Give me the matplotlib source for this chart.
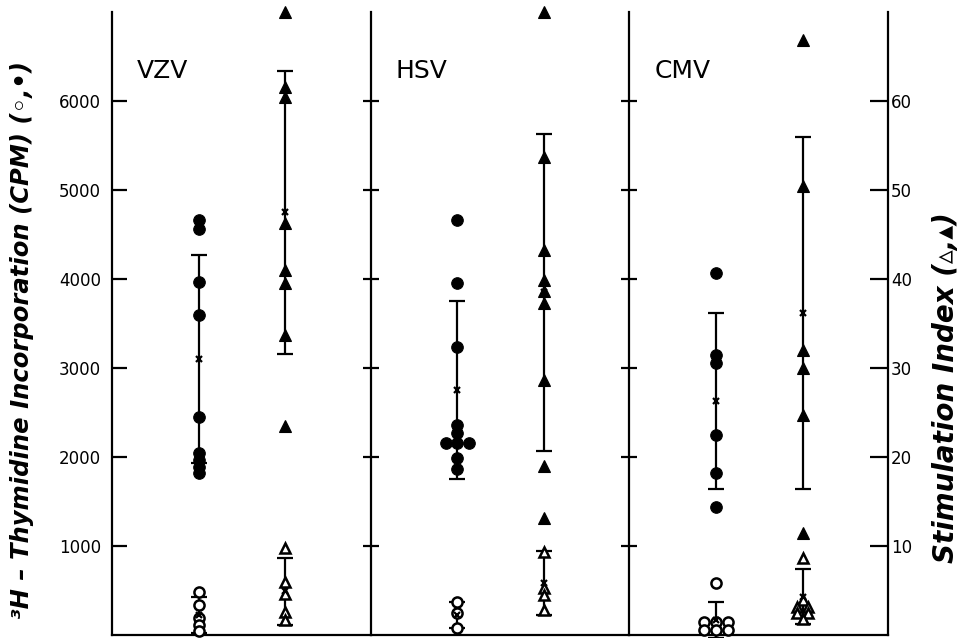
import numpy as np
import matplotlib
matplotlib.use("Agg")
import matplotlib.pyplot as plt
from collections import Counter

plt.rcParams['font.family'] = ['DejaVu Sans']

# ---------------- data ----------------
viruses = ["VZV", "HSV", "CMV"]

# 3H-thymidine incorporation (CPM), immune donors (filled circles)
vzv_cpm_immune = [4660, 4560, 3970, 3590, 2450, 2050, 1970, 1890, 1820]
hsv_cpm_immune = [4660, 3950, 3240, 2360, 2270, 2160, 2160, 2160, 1990, 1860]
cmv_cpm_immune = [4070, 3150, 3060, 2250, 1820, 1440]
# CPM, non-immune donors (open circles)
vzv_cpm_nonimmune = [480, 340, 190, 110, 50]
hsv_cpm_nonimmune = [370, 250, 80]
cmv_cpm_nonimmune = [580, 150, 150, 150, 55, 55, 55]
# Stimulation index, immune (filled triangles)
vzv_si_immune = [70, 61.6, 60.4, 46.3, 41.0, 39.5, 33.7, 23.5]
hsv_si_immune = [70, 53.7, 43.3, 39.9, 38.6, 37.3, 28.7, 19.0, 13.1]
cmv_si_immune = [66.9, 50.4, 32.0, 30.0, 24.7, 11.5]
# Stimulation index, non-immune (open triangles)
vzv_si_nonimmune = [9.8, 5.9, 4.6, 2.6, 1.7]
hsv_si_nonimmune = [9.3, 5.3, 4.5, 2.8]
cmv_si_nonimmune = [8.7, 3.9, 3.2, 3.2, 2.5, 2.5, 1.8]

# means and standard deviations (x marks and bars)
cpm_immune_mean = [3100, 2750, 2630]
cpm_immune_sd = [1170, 1000, 990]
cpm_nonimmune_mean = [225, 225, 170]
cpm_nonimmune_sd = [205, 145, 200]
si_immune_mean = [47.5, 38.5, 36.2]
si_immune_sd = [15.9, 17.8, 19.8]
si_nonimmune_mean = [4.9, 5.8, 4.3]
si_nonimmune_sd = [3.8, 3.6, 3.1]

cpm_ticks = [1000, 2000, 3000, 4000, 5000, 6000]
si_ticks = [10, 20, 30, 40, 50, 60]

cpm_immune = [vzv_cpm_immune, hsv_cpm_immune, cmv_cpm_immune]
cpm_nonimmune = [vzv_cpm_nonimmune, hsv_cpm_nonimmune, cmv_cpm_nonimmune]
si_immune = [vzv_si_immune, hsv_si_immune, cmv_si_immune]
si_nonimmune = [vzv_si_nonimmune, hsv_si_nonimmune, cmv_si_nonimmune]

# ---------------- layout ----------------
W, H = 962, 638
fig = plt.figure(figsize=(W / 100, H / 100), dpi=100)
axes = fig.subplots(1, 3, sharey=True,
                    gridspec_kw=dict(wspace=0, left=112 / W, right=888 / W,
                                     bottom=3 / H, top=1 - 12 / H))

LW = 1.6
X_CIRC, X_TRI = 0.335, 0.67
STEP = 0.045


def spread(values, step):
    counts = Counter(values)
    seen = {}
    out = []
    for v in values:
        n = counts[v]
        k = seen.get(v, 0)
        seen[v] = k + 1
        out.append((k - (n - 1) / 2) * step)
    return np.array(out)


def draw_group(ax, xc, vals, mean, sd, filled, marker, ms):
    vals = np.asarray(vals, dtype=float)
    ax.errorbar([xc], [mean], yerr=[sd], fmt='none', ecolor='black',
                elinewidth=LW, capsize=5.5, capthick=LW, zorder=2, clip_on=False)
    xs = xc + spread(list(vals), STEP)
    if filled:
        ax.plot(xs, vals, linestyle='none', marker=marker, ms=ms, mfc='black',
                mec='black', mew=0.8, zorder=3, clip_on=False)
    else:
        ax.plot(xs, vals, linestyle='none', marker=marker, ms=ms - 1.0, mfc='white',
                mec='black', mew=1.8, zorder=3, clip_on=False)
    ax.plot([xc], [mean], linestyle='none', marker='x', ms=5, mew=1.6,
            color='black', zorder=4, clip_on=False)


for i, ax in enumerate(axes):
    ax.set_xlim(0, 1)
    ax.set_ylim(0, 7000)
    ax.set_xticks([])
    for s in ['top', 'right']:
        ax.spines[s].set_visible(False)
    for s in ['left', 'bottom']:
        ax.spines[s].set_linewidth(LW)
    ax.set_yticks(cpm_ticks)
    if i == 0:
        ax.tick_params(axis='y', direction='in', length=11, width=LW,
                       labelsize=12, pad=8)
    else:
        ax.tick_params(axis='y', direction='inout', length=12, width=LW,
                       labelleft=False)

    ax.text(0.097, 0.894, viruses[i], transform=ax.transAxes, fontsize=18,
            ha='left', va='baseline')

    # CPM columns
    draw_group(ax, X_CIRC, cpm_immune[i], cpm_immune_mean[i], cpm_immune_sd[i],
               True, 'o', 8.3)
    draw_group(ax, X_CIRC, cpm_nonimmune[i], cpm_nonimmune_mean[i],
               cpm_nonimmune_sd[i], False, 'o', 8.3)

    # Stimulation index columns on a twin axis
    axr = ax.twinx()
    axr.set_ylim(0, 70)
    for s in ['top', 'left', 'bottom', 'right']:
        axr.spines[s].set_visible(False)
    if i == 2:
        axr.spines['right'].set_visible(True)
        axr.spines['right'].set_linewidth(LW)
        axr.set_yticks(si_ticks)
        axr.tick_params(axis='y', direction='in', length=13, width=LW,
                        labelsize=12, pad=2)
    else:
        axr.set_yticks([])
    draw_group(axr, X_TRI, si_immune[i], si_immune_mean[i], si_immune_sd[i],
               True, '^', 8.5)
    draw_group(axr, X_TRI, si_nonimmune[i], si_nonimmune_mean[i],
               si_nonimmune_sd[i], False, '^', 8.5)

fig.text(22 / W, 1 - 340 / H, "³H – Thymidine Incorporation (CPM) (◦,•)",
         rotation=90, ha='center', va='center', fontsize=17.5,
         fontweight='bold', fontstyle='italic')
fig.text(946 / W, 1 - 388 / H, "Stimulation Index (▵,▴)",
         rotation=90, ha='center', va='center', fontsize=20,
         fontweight='bold', fontstyle='italic')

fig.savefig("out.png", dpi=100)
